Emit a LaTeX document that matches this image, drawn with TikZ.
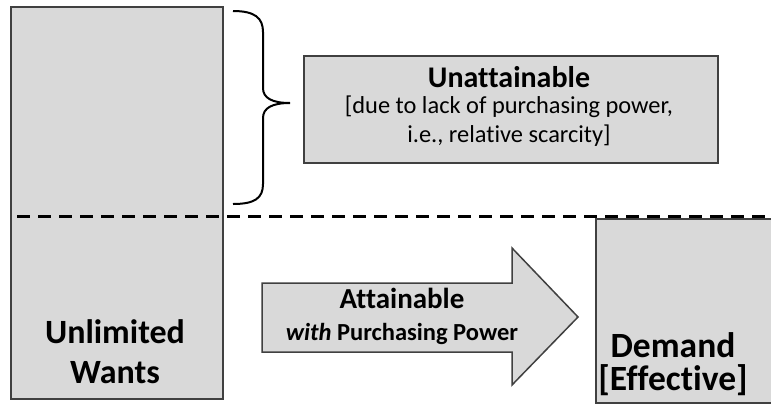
\documentclass[tikz,border=0pt]{standalone}
\usepackage{fontspec}
\setmainfont{Carlito}[Ligatures=NoCommon]
\usetikzlibrary{positioning}
\definecolor{boxgray}{HTML}{D9D9D9}
\definecolor{edgegray}{HTML}{404040}
\tikzstyle{box} = [rectangle, fill=boxgray, draw=edgegray, line width=1.5pt, inner sep=0pt]
\tikzstyle{bigtext} = [align=center, font=\fontsize{34}{40}\selectfont\bfseries]
\tikzstyle{midtext} = [align=center, font=\fontsize{24.4}{28.5}\selectfont]
\tikzstyle{divider} = [line width=3pt, dash pattern=on 13pt off 8pt]

\begin{document}
\begin{tikzpicture}[x=1pt, y=-1pt]
\clip (0,0) rectangle (771,405);
\node (wants) [box, anchor=north west, minimum width=212pt, minimum height=392pt] at (10,6) {};
\node (wantstxt) [bigtext, anchor=base] at (115,383) {Unlimited\\Wants};
\node (unatt) [box, anchor=north west, minimum width=414pt, minimum height=107pt] at (303,55) {};
\node (unatttxt) [midtext, anchor=base] at (509,142) {{\bfseries\fontsize{30}{28}\selectfont Unattainable}\\[-2pt]{}[due to lack of purchasing power,\\i.e., relative scarcity]};
\node (demand) [box, anchor=north west, minimum width=200pt, minimum height=184pt] at (595,218) {};
\node (demandtxt) [bigtext, font=\fontsize{35.5}{40}\selectfont\bfseries, anchor=base] at (673,390) {Demand\\[-7pt]{}[Effective]};
% arrow from wants to demand
\draw [box] (262,283) -- (512,283) -- (512,248) -- (578,317) -- (512,385) -- (512,352) -- (262,352) -- cycle;
\node (attain) [align=center, anchor=base, font=\fontsize{24.5}{32}\selectfont\bfseries] at (402,340) {{\fontsize{29}{32}\selectfont Attainable}\\\textit{with} Purchasing Power};
% brace
\draw [line width=2pt] (233,11) .. controls (255,11) and (263,18) .. (263,32) -- (263,88) .. controls (263,98) and (272,103) .. (290,103) .. controls (272,103) and (263,108) .. (263,118) -- (263,184) .. controls (263,198) and (255,204) .. (233,204);
\draw [divider] (17,216) -- (771,216);
\end{tikzpicture}
\end{document}
